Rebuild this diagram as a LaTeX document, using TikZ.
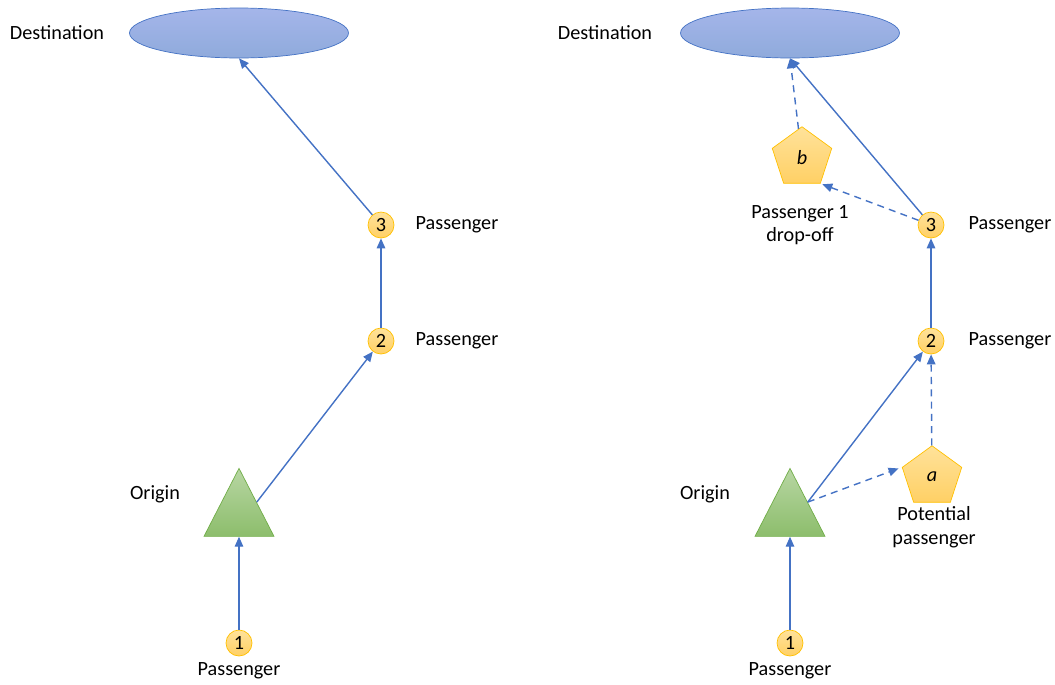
\documentclass[tikz,border=0pt]{standalone}
\usepackage{fontspec}
\setmainfont{Carlito}
\usepackage{tikz}
\usetikzlibrary{shapes.geometric,arrows.meta,positioning,calc}

\definecolor{arrblue}{HTML}{4472C4}
\definecolor{goldline}{HTML}{FFC000}
\definecolor{goldlight}{HTML}{FFE29A}
\definecolor{golddark}{HTML}{FFD065}
\definecolor{greenline}{HTML}{70AD47}

\begin{document}
\begin{tikzpicture}[x=0.02cm,y=-0.02cm,
  every node/.style={font=\fontsize{11.5}{13.5}\selectfont},
  dest/.style={ellipse,draw=arrblue,top color=blue!20!arrblue!45,bottom color=arrblue!60,minimum width=4.38cm,minimum height=1cm},
  orig/.style={isosceles triangle,shape border rotate=90,isosceles triangle stretches,draw=greenline,top color=greenline!50,bottom color=greenline!80,minimum width=1.4cm,minimum height=1.36cm,inner sep=0pt},
  pass/.style={circle,draw=goldline,top color=goldlight,bottom color=golddark,minimum size=0.52cm,inner sep=0pt},
  stop/.style={regular polygon,regular polygon sides=5,draw=goldline,top color=goldlight,bottom color=golddark,minimum size=1.25cm,inner sep=0pt,font=\fontsize{11.5}{13.5}\selectfont\itshape},
  lbl/.style={align=center},
  arr/.style={-{Triangle[length=2mm,width=1.7mm]},arrblue,thick},
  darr/.style={arr,dash pattern=on 4pt off 3pt}]
\useasboundingbox (0,0) rectangle (1055,684);
% left: plain trip
\node[dest] (d1) at (239,33) {};
\node[lbl] (d1l) at (57,33) {Destination};
\node[orig] (o1) at (239,515) {};
\node[lbl] (o1l) at (155,494) {Origin};
\node[pass] (p11) at (239,643) {1};
\node[lbl,below=0pt of p11] (p11l) {Passenger};
\node[pass] (p12) at (381,341) {2};
\node[lbl] (p12l) at (457,341) {Passenger};
\node[pass] (p13) at (381,225) {3};
\node[lbl] (p13l) at (457,225) {Passenger};
\coordinate (o1r) at ($(o1.apex)!0.5!(o1.right corner)$);
\draw[arr] (p11) -- (o1.south);
\draw[arr] (o1r) -- (p12);
\draw[arr] (p12) -- (p13);
\draw[arr] (p13) -- (d1.south);
% right: trip with extra pick-up and drop-off
\node[dest] (d2) at (790,33) {};
\node[lbl] (d2l) at (605,33) {Destination};
\node[orig] (o2) at (790,515) {};
\node[lbl] (o2l) at (705,494) {Origin};
\node[pass] (p21) at (790,643) {1};
\node[lbl,below=0pt of p21] (p21l) {Passenger};
\node[pass] (p22) at (931,341) {2};
\node[lbl] (p22l) at (1010,341) {Passenger};
\node[pass] (p23) at (931,225) {3};
\node[lbl] (p23l) at (1010,225) {Passenger};
\node[stop] (sa) at (932,477) {a};
\node[lbl] (sal) at (934,527) {Potential\\passenger};
\node[stop] (sb) at (802,158) {b};
\node[lbl] (sbl) at (800,225) {Passenger 1\\drop-off};
\coordinate (o2r) at ($(o2.apex)!0.5!(o2.right corner)$);
\draw[arr] (p21) -- (o2.south);
\draw[arr] (o2r) -- (p22);
\draw[arr] (p22) -- (p23);
\draw[arr] (p23) -- (d2.south);
\draw[darr,shorten >=2pt] (o2r) -- (sa.corner 2);
\draw[darr] (sa) -- (p22);
\draw[darr,shorten >=1pt] (p23) -- (sb.corner 4);
\draw[darr] (sb) -- (d2.south);
\end{tikzpicture}
\end{document}
